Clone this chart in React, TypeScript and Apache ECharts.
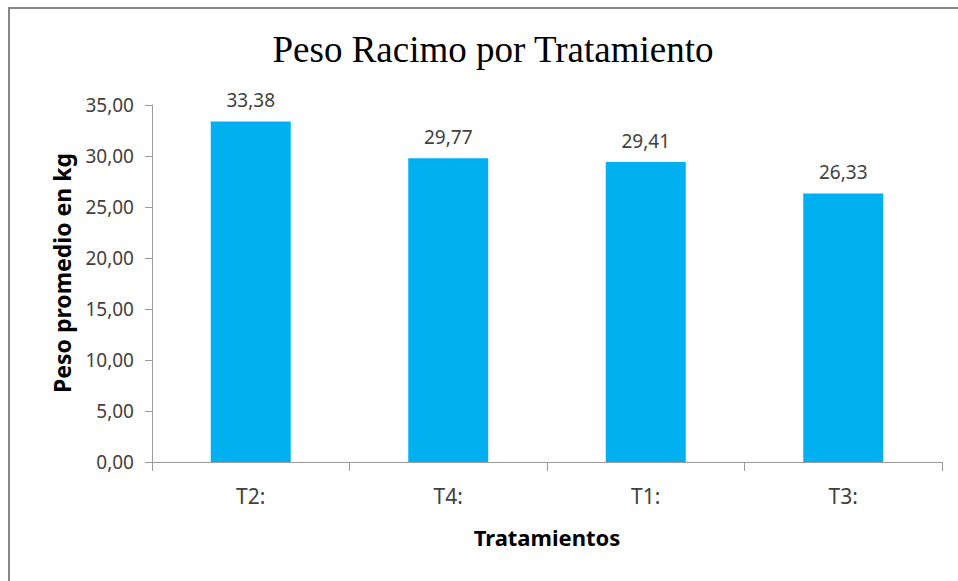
import React, { useEffect, useRef } from "react";
import * as echarts from "echarts";

const categories = ["T2:", "T4:", "T1:", "T3:"];
const values = [33.38, 29.77, 29.41, 26.33];
const yTicks = { min: 0, max: 35, interval: 5 };
const titleText = "Peso Racimo por Tratamiento";
const xName = "Tratamientos";
const yName = "Peso promedio en kg";

const fmt = (v: number) => v.toFixed(2).replace(".", ",");

export default function App() {
  const ref = useRef<HTMLDivElement>(null);
  useEffect(() => {
    if (!ref.current) return;
    const chart = echarts.init(ref.current, undefined, { renderer: "svg" });
    const sans = "'Noto Sans', sans-serif";
    chart.setOption({
      animation: false,
      backgroundColor: "#ffffff",
      title: {
        text: titleText,
        left: 488,
        top: 26,
        textAlign: "center",
        textStyle: {
          fontFamily: "'Liberation Serif', serif",
          fontSize: 37,
          fontWeight: "normal",
          color: "#000000",
        },
      },
      grid: { left: 152, top: 105, width: 790, height: 357, containLabel: false },
      xAxis: {
        type: "category",
        data: categories,
        name: xName,
        nameLocation: "middle",
        nameGap: 64,
        nameTextStyle: { fontFamily: sans, fontSize: 22, fontWeight: "bold", color: "#000000" },
        axisLine: { show: true, lineStyle: { color: "#9a9a9a", width: 1 } },
        axisTick: { show: true, alignWithLabel: false, length: 9, lineStyle: { color: "#9a9a9a" } },
        axisLabel: { fontFamily: sans, fontSize: 21, color: "#404040", margin: 23 },
        splitLine: { show: false },
      },
      yAxis: {
        type: "value",
        min: yTicks.min,
        max: yTicks.max,
        interval: yTicks.interval,
        axisLine: { show: true, lineStyle: { color: "#9a9a9a", width: 1 } },
        axisTick: { show: true, length: 7, lineStyle: { color: "#9a9a9a" } },
        axisLabel: { fontFamily: sans, fontSize: 19, color: "#404040", margin: 18, formatter: (v: number) => fmt(v) },
        splitLine: { show: false },
      },
      graphic: [
        {
          type: "rect",
          shape: { x: 9, y: 8, width: 980, height: 600 },
          style: { fill: "none", stroke: "#878787", lineWidth: 2 },
          silent: true,
        },
        {
          type: "text",
          x: 62,
          y: 273,
          rotation: Math.PI / 2,
          style: {
            text: yName,
            fontFamily: sans,
            fontSize: 23,
            fontWeight: "bold",
            fill: "#000000",
            textAlign: "center",
            textVerticalAlign: "middle",
          },
        },
      ],
      series: [
        {
          type: "bar",
          data: values,
          barWidth: 80,
          itemStyle: { color: "#00B0F0" },
          label: {
            show: true,
            position: "top",
            distance: 12,
            fontFamily: sans,
            fontSize: 19,
            color: "#404040",
            formatter: (p: any) => fmt(p.value),
          },
        },
      ],
    });
    return () => chart.dispose();
  }, []);
  return (
    <div
      ref={ref}
      style={{ position: "fixed", left: 0, top: 0, width: 958, height: 581 }}
    />
  );
}
